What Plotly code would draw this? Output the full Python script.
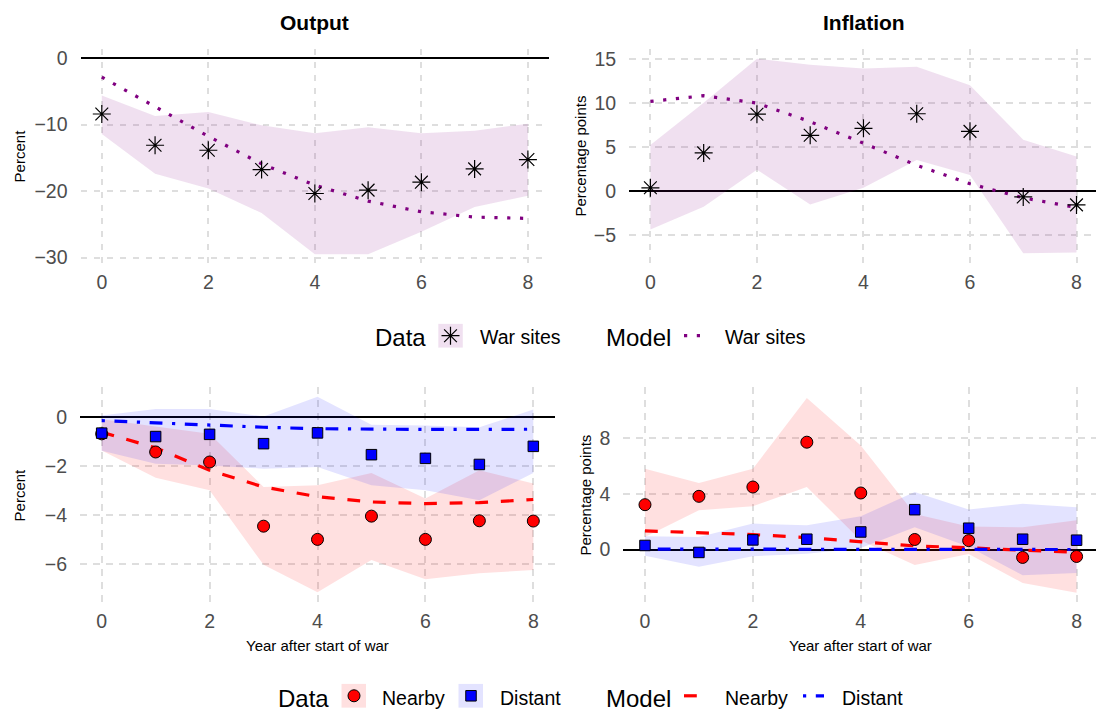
import plotly.graph_objects as go

W, H = 1096, 713
FONT = "Liberation Sans, Arial, sans-serif"

years = [0, 1, 2, 3, 4, 5, 6, 7, 8]

# ---- Top row: war sites ----
out_war_data = [-8.4, -13.1, -13.85, -16.75, -20.35, -19.85, -18.65, -16.65, -15.25]
out_war_lo = [-11.4, -17.4, -19.6, -23.3, -29.5, -29.5, -26.1, -22.4, -20.7]
out_war_hi = [-5.6, -8.7, -8.1, -10.1, -11.3, -10.4, -11.3, -10.9, -9.85]
out_war_model = [-2.85, -7.3, -11.75, -15.9, -19.1, -21.5, -23.1, -23.9, -24.1]

inf_war_data = [0.34, 4.3, 8.7, 6.3, 7.1, 8.75, 6.75, -0.7, -1.6]
inf_war_lo = [-4.4, -1.8, 2.4, -1.55, 0.35, 3.5, 1.8, -7.1, -7.0]
inf_war_hi = [5.2, 10.0, 15.0, 14.3, 13.9, 14.1, 12.0, 5.8, 3.9]
inf_war_model = [10.15, 10.8, 9.96, 7.85, 5.4, 2.9, 0.8, -0.8, -1.9]

# ---- Bottom row: nearby / distant ----
out_near_data = [-0.68, -1.42, -1.83, -4.45, -4.99, -4.04, -4.99, -4.23, -4.24]
out_near_lo = [-1.36, -2.47, -2.98, -6.03, -7.15, -5.83, -6.62, -6.37, -6.24]
out_near_hi = [-0.08, -0.37, -0.68, -2.85, -2.78, -2.28, -3.32, -2.17, -2.71]
out_dist_data = [-0.65, -0.79, -0.70, -1.08, -0.64, -1.53, -1.68, -1.93, -1.19]
out_dist_lo = [-1.37, -1.90, -1.97, -2.10, -2.03, -2.78, -2.98, -3.39, -2.28]
out_dist_hi = [0.07, 0.34, 0.34, 0.03, 0.84, -0.31, -0.34, -0.41, 0.31]
out_near_model = [-0.61, -1.25, -2.17, -2.85, -3.25, -3.46, -3.53, -3.49, -3.36]
out_dist_model = [-0.14, -0.23, -0.33, -0.41, -0.47, -0.50, -0.50, -0.50, -0.49]

inf_near_data = [3.22, 3.82, 4.49, 7.71, 4.06, 0.72, 0.64, -0.57, -0.50]
inf_near_lo = [0.90, 2.82, 3.10, 4.49, 0.65, -1.12, -0.33, -2.40, -3.10]
inf_near_hi = [5.80, 4.77, 5.80, 10.88, 7.47, 2.55, 1.65, 1.60, 2.10]
inf_dist_data = [0.29, -0.21, 0.69, 0.74, 1.26, 2.86, 1.53, 0.74, 0.67]
inf_dist_lo = [-0.45, -1.24, -0.48, -0.30, 0.10, 1.60, 0.20, -1.85, -1.68]
inf_dist_hi = [0.95, 0.90, 1.86, 1.74, 2.39, 4.13, 2.87, 3.29, 3.03]
inf_near_model = [1.34, 1.22, 1.07, 0.86, 0.55, 0.26, 0.12, -0.05, -0.21]
inf_dist_model = [0.03, 0.02, 0.02, 0.02, 0.01, 0.01, 0.00, 0.00, 0.00]

PURPLE = "#800080"
BAND_PURPLE = "rgba(128,0,128,0.12)"
BAND_RED = "rgba(255,0,0,0.12)"
BAND_BLUE = "rgba(0,0,255,0.11)"

DOT = "3.2px,9.6px"
DASH = "12.8px,12.8px"
DOTDASH = "3.2px,9.6px,12.8px,9.6px"
LW = 3.2

# vertical layout correction (pixel positions measured on the reference)
VS = 1.0073


def vy(p):
    return 57 + (p - 57) * VS


def fx(p):
    return p / W


def fy(p):
    return 1 - vy(p) / H


fig = go.Figure()


def band(x, lo, hi, color, xa, ya):
    fig.add_trace(go.Scatter(
        x=list(x) + list(x)[::-1], y=list(hi) + list(lo)[::-1],
        fill="toself", fillcolor=color, mode="lines", line=dict(width=0),
        hoverinfo="skip", showlegend=False, xaxis=xa, yaxis=ya))


def line(x, y, color, dash, xa, ya):
    fig.add_trace(go.Scatter(
        x=x, y=y, mode="lines", line=dict(color=color, width=LW, dash=dash),
        showlegend=False, xaxis=xa, yaxis=ya))


def pts(x, y, symbol, color, size, xa, ya, lw=1.0, outline="black"):
    fig.add_trace(go.Scatter(
        x=x, y=y, mode="markers",
        marker=dict(symbol=symbol, color=color, size=size,
                    line=dict(color=outline, width=lw)),
        showlegend=False, xaxis=xa, yaxis=ya))


# Top-left: Output, war sites
band(years, out_war_lo, out_war_hi, BAND_PURPLE, "x", "y")
line(years, out_war_model, PURPLE, DOT, "x", "y")
pts(years, out_war_data, "asterisk-open", "black", 15, "x", "y", lw=1.2)

# Top-right: Inflation, war sites
band(years, inf_war_lo, inf_war_hi, BAND_PURPLE, "x2", "y2")
line(years, inf_war_model, PURPLE, DOT, "x2", "y2")
pts(years, inf_war_data, "asterisk-open", "black", 15, "x2", "y2", lw=1.2)

# Bottom-left: Output, nearby/distant
band(years, out_near_lo, out_near_hi, BAND_RED, "x3", "y3")
band(years, out_dist_lo, out_dist_hi, BAND_BLUE, "x3", "y3")
line(years, out_near_model, "red", DASH, "x3", "y3")
line(years, out_dist_model, "blue", DOTDASH, "x3", "y3")
pts(years, out_near_data, "circle", "red", 12, "x3", "y3")
pts(years, out_dist_data, "square", "blue", 10.5, "x3", "y3")

# Bottom-right: Inflation, nearby/distant
band(years, inf_near_lo, inf_near_hi, BAND_RED, "x4", "y4")
band(years, inf_dist_lo, inf_dist_hi, BAND_BLUE, "x4", "y4")
line(years, inf_near_model, "red", DASH, "x4", "y4")
line(years, inf_dist_model, "blue", DOTDASH, "x4", "y4")
pts(years, inf_near_data, "circle", "red", 12, "x4", "y4")
pts(years, inf_dist_data, "square", "blue", 10.5, "x4", "y4")

# ---- Legend keys (overlay axis in pixel units) ----
L1Y, L2Y = vy(335), vy(696)


def keybox(x0, x1, yc, color):
    fig.add_trace(go.Scatter(
        x=[x0, x1, x1, x0, x0], y=[yc - 12, yc - 12, yc + 12, yc + 12, yc - 12],
        fill="toself", fillcolor=color, mode="lines", line=dict(width=0),
        hoverinfo="skip", showlegend=False, xaxis="x5", yaxis="y5"))


keybox(438.3, 462.8, L1Y, BAND_PURPLE)
keybox(341.5, 366.0, L2Y, BAND_RED)
keybox(458.5, 483.0, L2Y, BAND_BLUE)
pts([450.5], [L1Y], "asterisk-open", "black", 15, "x5", "y5", lw=1.2)
line([684, 704], [L1Y, L1Y], PURPLE, DOT, "x5", "y5")
pts([354], [L2Y], "circle", "red", 12, "x5", "y5")
pts([471], [L2Y], "square", "blue", 10.5, "x5", "y5")
line([684, 704], [L2Y, L2Y], "red", DASH, "x5", "y5")
line([803, 824], [L2Y, L2Y], "blue", DOTDASH, "x5", "y5")

TOP = [fy(262.8), fy(47.2)]
BOT = [fy(602.5), fy(386.5)]

tickfont = dict(family=FONT, size=19.5, color="#4D4D4D")
common_x = dict(tickvals=[0, 2, 4, 6, 8], showgrid=True, gridcolor="#dedede",
                gridwidth=1.5, griddash="6.5px,6.5px", zeroline=False,
                showline=False, ticks="", ticklabelstandoff=5, tickfont=tickfont)
common_y = dict(showgrid=True, gridcolor="#dedede", gridwidth=1.5,
                griddash="6.5px,6.5px", zeroline=True, zerolinecolor="black",
                zerolinewidth=1.6, showline=False,
                ticks="", ticklabelstandoff=12, tickfont=tickfont)

fig.update_layout(
    width=W, height=H,
    margin=dict(l=0, r=0, t=0, b=0),
    paper_bgcolor="white", plot_bgcolor="rgba(0,0,0,0)",
    font=dict(family=FONT, color="black"),
    showlegend=False,
    xaxis=dict(domain=[fx(80.5), fx(549.2)], range=[-0.4, 8.4], anchor="y", **common_x),
    yaxis=dict(domain=TOP, range=[-30.91, 1.425], tickvals=[-30, -20, -10, 0], anchor="x", **common_y),
    xaxis2=dict(domain=[fx(629.1), 1.0], range=[-0.4, 8.366], anchor="y2", **common_x),
    yaxis2=dict(domain=TOP, range=[-8.28, 16.14], tickvals=[-5, 0, 5, 10, 15], anchor="x2", **common_y),
    xaxis3=dict(domain=[fx(80.1), fx(554.9)], range=[-0.4, 8.4], anchor="y3", **common_x),
    yaxis3=dict(domain=BOT, range=[-7.568, 1.23], tickvals=[-6, -4, -2, 0], anchor="x3", **common_y),
    xaxis4=dict(domain=[fx(623.4), 1.0], range=[-0.4, 8.36], anchor="y4", **common_x),
    yaxis4=dict(domain=BOT, range=[-3.81, 11.67], tickvals=[0, 4, 8], anchor="x4", **common_y),
    xaxis5=dict(domain=[0, 1], range=[0, W], visible=False, anchor="y5", fixedrange=True),
    yaxis5=dict(domain=[0, 1], range=[H, 0], visible=False, anchor="x5", fixedrange=True),
)

ann = []


def text(t, x, y, size, xanchor="center", angle=0, color="black"):
    ann.append(dict(text=t, x=fx(x), y=fy(y), xref="paper", yref="paper",
                    xanchor=xanchor, yanchor="middle", showarrow=False,
                    textangle=angle, font=dict(family=FONT, size=size, color=color)))


text("<b>Output</b>", 314.85, 21, 21)
text("<b>Inflation</b>", 863.5, 21, 21)
text("Percent", 19.2, 155, 15, angle=-90)
text("Percentage points", 580.3, 155, 15, angle=-90)
text("Percent", 19.6, 494.5, 15, angle=-90)
text("Percentage points", 585.8, 494.5, 15, angle=-90)
text("Year after start of war", 317.5, 646, 15)
text("Year after start of war", 860.9, 646, 15)

# legend 1
text("Data", 372.5, 337, 24, xanchor="left")
text("War sites", 477.7, 336.5, 19.5, xanchor="left")
text("Model", 604, 337, 24, xanchor="left")
text("War sites", 723.4, 336.5, 19.5, xanchor="left")
# legend 2
text("Data", 275.9, 698.5, 24, xanchor="left")
text("Nearby", 380.4, 698, 19.5, xanchor="left")
text("Distant", 497.8, 698, 19.5, xanchor="left")
text("Model", 603.6, 698.5, 24, xanchor="left")
text("Nearby", 723, 698, 19.5, xanchor="left")
text("Distant", 840, 698, 19.5, xanchor="left")

fig.update_layout(annotations=ann)

fig.write_html("out.html", config={"displayModeBar": False},
               post_script="document.body.style.margin='0px';document.body.style.overflow='hidden';")
